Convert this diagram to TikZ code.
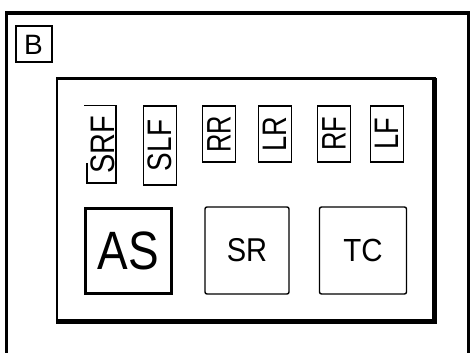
\documentclass[tikz,border=0pt]{standalone}
\usepackage{fontspec}
\setmainfont{Liberation Sans}
\usepackage{graphicx}
\begin{document}
\begin{tikzpicture}[x=1pt,y=-1pt,
  frame/.style={draw=black,line width=3.5pt},
  smallbox/.style={draw=black,line width=1.5pt,inner sep=0pt,minimum width=33pt},
  vlabel/.style={rotate=90,font=\fontsize{34}{34}\selectfont},
  bigbox/.style={draw=black,line width=1.4pt,rounded corners=2pt,inner sep=0pt,minimum width=84pt,minimum height=87pt},
  asbox/.style={draw=black,line width=3.2pt,inner sep=0pt,minimum width=86pt,minimum height=85pt}]
\useasboundingbox (0,0) rectangle (471,353);
% outer frame
\draw[frame] (6.5,13) rectangle (468.5,362);
% B label
\node[draw=black,line width=2pt,inner sep=0pt,minimum width=36pt,minimum height=36pt,font=\fontsize{28}{28}\selectfont] (b) at (33.5,44.5) {B};
% inner frame
\draw[black,line width=2.7pt] (57,78.5) rectangle (434.5,321.5);
\draw[black,line width=4.5pt] (434.5,78) -- (434.5,321.5) -- (56,321.5);
% small boxes
\node[vlabel] (srf) at (103,145) {\scalebox{0.85}[1]{SRF}};
\draw[black,line width=1.5pt] (84,105.5) -- (116,105.5) -- (116,183) -- (87,183) -- (87,163);
\node[smallbox,minimum height=79pt] (slfbox) at (160,145.5) {};
\node[vlabel] (slf) at (slfbox.center) {\scalebox{0.82}[1]{SLF}};
\node[smallbox,minimum height=56pt] (rrbox) at (219,134) {};
\node[vlabel] (rr) at (rrbox.center) {\scalebox{0.75}[1]{RR}};
\node[smallbox,minimum height=56pt] (lrbox) at (275,134) {};
\node[vlabel] (lr) at (lrbox.center) {\scalebox{0.8}[1]{LR}};
\node[smallbox,minimum height=56pt] (rfbox) at (334,134) {};
\node[vlabel] (rf) at (rfbox.center) {\scalebox{0.75}[1]{RF}};
\node[smallbox,minimum height=56pt] (lfbox) at (387,134) {};
\node[vlabel] (lf) at (lfbox.center) {\scalebox{0.8}[1]{LF}};
% bottom boxes
\node[asbox] (as) at (128.5,251) {};
\node (astext) at (as.center) {\fontsize{54}{54}\selectfont\scalebox{0.85}[1]{AS}};
\node[bigbox] (sr) at (247,250.5) {};
\node (srtext) at (sr.center) {\fontsize{33}{33}\selectfont\scalebox{0.88}[1]{SR}};
\node[bigbox,minimum width=87pt] (tc) at (363,250.5) {};
\node (tctext) at (tc.center) {\fontsize{32}{32}\selectfont\scalebox{0.92}[1]{TC}};
\end{tikzpicture}
\end{document}
